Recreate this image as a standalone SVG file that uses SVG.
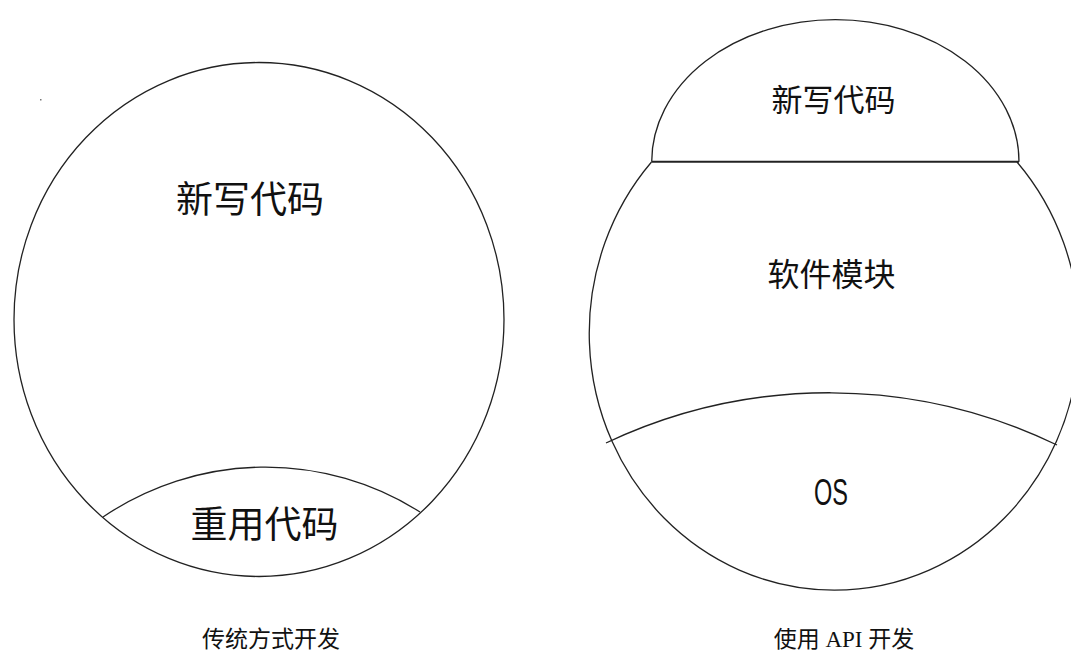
<svg xmlns="http://www.w3.org/2000/svg" width="1071" height="650" viewBox="0 0 1071 650">
<style>
.ln{fill:none;stroke:#222;stroke-width:1.3}
.bold{fill:none;stroke:#222;stroke-width:2}
.cjk{font-family:"Noto Sans CJK SC","Noto Sans",sans-serif;fill:#111;text-anchor:middle}
.cap{font-family:"Liberation Serif","Noto Sans CJK SC",serif;fill:#111;text-anchor:middle;font-size:23px}
.lat{font-family:"Liberation Sans","Noto Sans",sans-serif;fill:#111;text-anchor:middle}
</style>
<rect width="1071" height="650" fill="#fff"/>
<rect x="40" y="99" width="1.5" height="1.5" fill="#777"/>

<g id="left-diagram">
  <g id="left-circle">
    <ellipse class="ln" cx="259" cy="319.5" rx="245" ry="257"/>
    <text class="cjk" x="250" y="212.5" font-size="37">新写代码</text>
  </g>
  <g id="left-reuse">
    <path class="ln" d="M103,517 A289,289 0 0 1 420,512"/>
    <text class="cjk" x="264.5" y="537.5" font-size="37">重用代码</text>
  </g>
  <text id="left-caption" class="cap" x="271" y="646.5">传统方式开发</text>
</g>

<g id="right-diagram">
  <g id="right-new-code">
    <path class="ln" d="M651.7,161.7 A183.5,142 0 0 1 1019,161.7"/>
    <text class="cjk" x="833.5" y="111" font-size="31">新写代码</text>
  </g>
  <g id="right-module">
    <path class="ln" d="M651.5,162 A245,257 0 1 0 1017,162"/>
    <text class="cjk" x="831.5" y="286" font-size="32">软件模块</text>
  </g>
  <g id="right-os">
    <text class="lat" x="831" y="505" font-size="36" textLength="34" lengthAdjust="spacingAndGlyphs">OS</text>
  </g>
  <text id="right-caption" class="cap" x="844" y="646.5">使用 API 开发</text>
</g>

<g id="connectors">
  <line class="bold" x1="651.7" y1="161.7" x2="1019" y2="161.7"/>
  <path class="ln" d="M606,443 A522,522 0 0 1 1057,445"/>
</g>
</svg>
